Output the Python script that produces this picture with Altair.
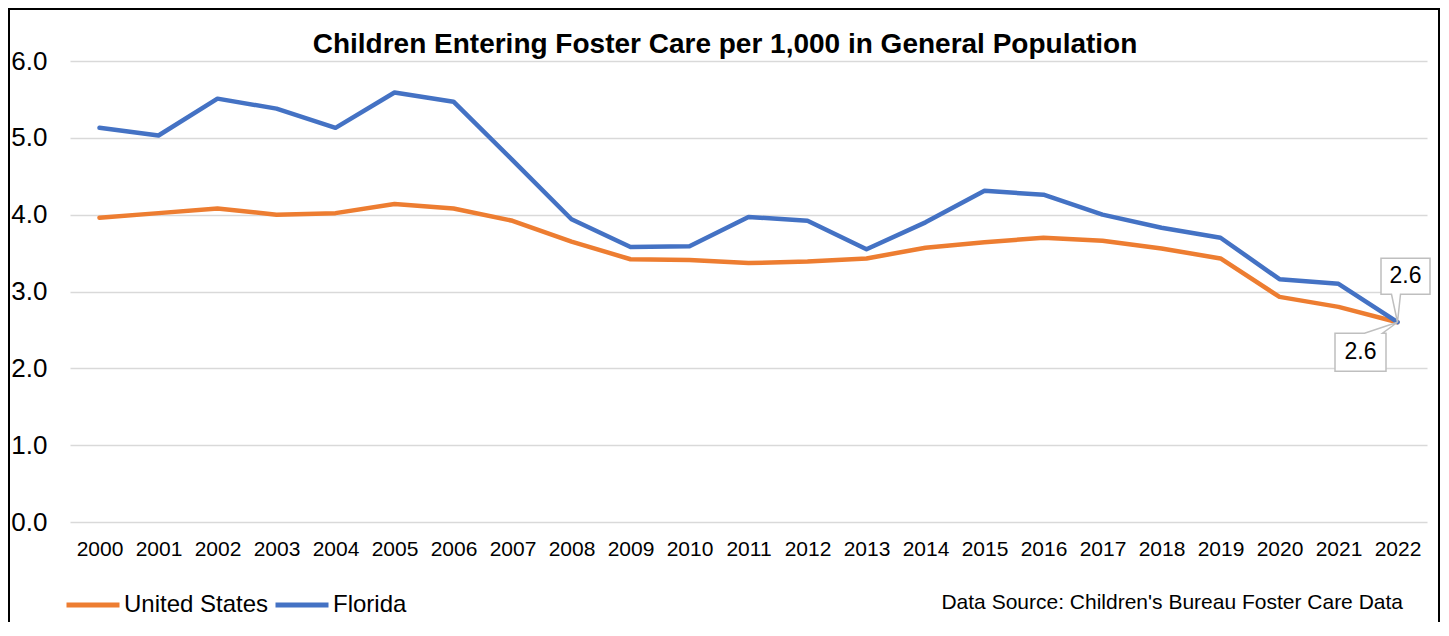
import altair as alt
import pandas as pd

FONT = "Liberation Sans, Arial, sans-serif"

years = ["2000", "2001", "2002", "2003", "2004", "2005", "2006", "2007", "2008",
         "2009", "2010", "2011", "2012", "2013", "2014", "2015", "2016", "2017",
         "2018", "2019", "2020", "2021", "2022"]
us_values = [3.96, 4.02, 4.08, 4.00, 4.02, 4.14, 4.08, 3.92, 3.65, 3.42, 3.41, 3.37,
             3.39, 3.43, 3.57, 3.64, 3.70, 3.66, 3.56, 3.43, 2.93, 2.80, 2.60]
fl_values = [5.13, 5.03, 5.51, 5.38, 5.13, 5.59, 5.47, 4.71, 3.94, 3.58, 3.59, 3.97,
             3.92, 3.55, 3.90, 4.31, 4.26, 4.00, 3.83, 3.70, 3.16, 3.10, 2.60]
series_names = ["United States", "Florida"]
series_colors = ["#ED7D31", "#4472C4"]
y_ticks = [0, 1, 2, 3, 4, 5, 6]
title_text = "Children Entering Foster Care per 1,000 in General Population"
source_text = "Data Source: Children's Bureau Foster Care Data"

rows = []
for y, u, f in zip(years, us_values, fl_values):
    rows.append({"year": y, "series": "United States", "value": u})
    rows.append({"year": y, "series": "Florida", "value": f})
df = pd.DataFrame(rows)

last = pd.DataFrame([
    {"year": years[-1], "series": "United States", "value": us_values[-1], "label": f"{us_values[-1]:.1f}"},
    {"year": years[-1], "series": "Florida", "value": fl_values[-1], "label": f"{fl_values[-1]:.1f}"},
])

x_enc = alt.X("year:O", sort=years,
              scale=alt.Scale(type="point", padding=0.5),
              axis=alt.Axis(title=None, labelAngle=0, domain=False, ticks=False, tickSize=0,
                            grid=False, labelFontSize=21, labelFont=FONT, labelColor="#000000",
                            labelPadding=16))
y_enc = alt.Y("value:Q",
              scale=alt.Scale(domain=[0, 6], nice=False, zero=True),
              axis=alt.Axis(title=None, values=y_ticks, format=".1f", domain=False, ticks=False,
                            tickSize=0, grid=True, gridColor="#d9d9d9", gridWidth=1.5,
                            labelFontSize=26, labelFont=FONT, labelColor="#000000",
                            labelPadding=23))

lines = alt.Chart(df).mark_line(strokeWidth=4.5, strokeCap="round", strokeJoin="round").encode(
    x=x_enc,
    y=y_enc,
    color=alt.Color("series:N",
                    scale=alt.Scale(domain=series_names, range=series_colors),
                    legend=alt.Legend(title=None, orient="none", direction="horizontal",
                                      legendX=-6, legendY=515, padding=0,
                                      symbolType="stroke", symbolSize=2809, symbolStrokeWidth=5,
                                      labelFontSize=24, labelFont=FONT, labelColor="#000000",
                                      labelOffset=2, columnPadding=-4)),
    order=alt.Order("series:N", sort="descending"),
)

fl_shape = "M-16.5,-64 L32.5,-64 L32.5,-28 L3,-28 L0,0 L-6,-28 L-16.5,-28 Z"
us_shape = "M-62.5,11 L-33,11 L0,0 L-15,11 L-11.5,11 L-11.5,49 L-62.5,49 Z"

fl_box = alt.Chart(last).transform_filter(alt.datum.series == "Florida").mark_point(
    shape=fl_shape, size=4, filled=True, fill="white", stroke="#bfbfbf", strokeWidth=1.5, opacity=1
).encode(x=alt.X("year:O", sort=years), y="value:Q")
us_box = alt.Chart(last).transform_filter(alt.datum.series == "United States").mark_point(
    shape=us_shape, size=4, filled=True, fill="white", stroke="#bfbfbf", strokeWidth=1.5, opacity=1
).encode(x=alt.X("year:O", sort=years), y="value:Q")

fl_text = alt.Chart(last).transform_filter(alt.datum.series == "Florida").mark_text(
    dx=8, dy=-46, fontSize=23, font=FONT, color="#000000", baseline="middle", align="center"
).encode(x=alt.X("year:O", sort=years), y="value:Q", text="label:N")
us_text = alt.Chart(last).transform_filter(alt.datum.series == "United States").mark_text(
    dx=-37, dy=30, fontSize=23, font=FONT, color="#000000", baseline="middle", align="center"
).encode(x=alt.X("year:O", sort=years), y="value:Q", text="label:N")

title_df = pd.DataFrame({"t": [title_text]})
title = alt.Chart(title_df).mark_text(
    fontSize=28, fontWeight="bold", font=FONT, color="#000000", align="center", baseline="alphabetic"
).encode(x=alt.value(655), y=alt.value(-8), text="t:N")

src_df = pd.DataFrame({"t": [source_text]})
source = alt.Chart(src_df).mark_text(
    fontSize=21, font=FONT, color="#000000", align="right", baseline="middle"
).encode(x=alt.value(1333), y=alt.value(542), text="t:N")

frame_df = pd.DataFrame({"k": [0]})
frame = alt.Chart(frame_df).mark_rect(fill=None, stroke="#000000", strokeWidth=2).encode(
    x=alt.value(-61), x2=alt.value(1369), y=alt.value(-52), y2=alt.value(640)
)

chart = alt.layer(frame, title, source, lines, fl_box, us_box, fl_text, us_text).properties(
    width=1357, height=461,
    background="white",
    autosize=alt.AutoSizeParams(type="none"),
    padding={"left": 62, "top": 53, "right": 14, "bottom": 100},
).configure_view(stroke=None)

chart.save("out.html", embed_options={"renderer": "svg", "actions": False})
